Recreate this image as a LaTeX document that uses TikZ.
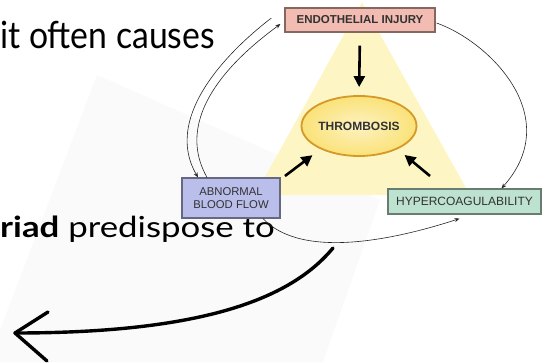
\documentclass[tikz,border=0pt]{standalone}
\usepackage{fontspec}
\usepackage{tikz}
\usetikzlibrary{arrows.meta,shapes.geometric}
\newfontfamily\slidefont{Lato}
\newfontfamily\figfont{Liberation Sans}
\definecolor{injury}{RGB}{242,188,178}
\definecolor{flow}{RGB}{186,190,234}
\definecolor{coag}{RGB}{190,226,208}
\definecolor{clot}{RGB}{250,226,120}
\definecolor{clotring}{RGB}{214,152,40}
\definecolor{glow}{RGB}{253,246,196}
\definecolor{sheet}{RGB}{250,250,250}
\definecolor{figtext}{RGB}{50,50,50}

\begin{document}
\begin{tikzpicture}[x=1pt, y=1pt,
  factor/.style={rectangle, fill=#1, draw=#1!55!black, line width=1.2pt, inner sep=0pt, text=figtext, align=center},
  cause/.style={line width=2.6pt, -{Triangle[length=11pt,width=11pt]}},
  link/.style={draw=black!85, line width=0.6pt, -{Stealth[length=5pt,width=4pt]}},
  hand/.style={line width=3.4pt, line cap=round, line join=round}]
\useasboundingbox (0,0) rectangle (546,362);

% faint paper behind the slide text
\fill[sheet] (97,287) -- (380,162) -- (323,0) -- (0,0) -- (0,32) -- cycle;

% slide text
\node[anchor=base west, inner sep=0pt, font=\slidefont\fontsize{37.5}{44}\selectfont] (T1) at (0,313) {\scalebox{0.9}[1]{it often causes}};
\node[anchor=base west, inner sep=0pt, font=\slidefont\fontsize{29}{35}\selectfont] (T2) at (0,125) {\scalebox{1.2}[1]{\textbf{riad} predispose to}};

% triad
\fill[glow] (362,360) -- (255,167) -- (470,167) -- cycle;

\node[factor=injury, minimum width=150pt, minimum height=24pt, font=\figfont\bfseries\fontsize{11.5}{13}\selectfont] (EI) at (360,342) {ENDOTHELIAL INJURY};
\node[factor=flow, minimum width=98pt, minimum height=40pt, font=\figfont\fontsize{11.3}{13}\selectfont] (ABF) at (231,164) {ABNORMAL\\BLOOD FLOW};
\node[factor=coag, minimum width=153pt, minimum height=25pt, font=\figfont\fontsize{12}{14}\selectfont] (HC) at (464.5,160.5) {HYPERCOAGULABILITY};
\node[ellipse, minimum width=102pt, minimum height=60pt, inner sep=0pt, draw=clotring, line width=1.8pt, inner color=clot!45, outer color=clot, text=figtext, font=\figfont\bfseries\fontsize{12}{14}\selectfont] (TH) at (359,236) {THROMBOSIS};

% into thrombosis
\coordinate (ABFtail) at (285,186);
\coordinate (HCtail) at (430,186);
\draw[cause, shorten <=13pt, shorten >=8pt] (EI.south) -- (TH.north);
\draw[cause, shorten >=10pt] (ABFtail) -- (TH.211);
\draw[cause, shorten >=9pt] (HCtail) -- (TH.329);

% links round the triad
\draw[link] ([xshift=-13pt,yshift=2pt]EI.west) .. controls (240,320) and (160,250) .. ([xshift=-33pt]ABF.north);
\draw[link] ([xshift=-24pt]ABF.north) .. controls (169,252) and (248,314) .. ([xshift=-4pt,yshift=-4pt]EI.west);
\draw[link] ([xshift=1pt,yshift=-3pt]EI.east) .. controls (490,320) and (565,245) .. ([xshift=37pt]HC.north);
\draw[link] ([xshift=32pt]ABF.south) .. controls (303,101) and (400,124) .. ([xshift=-5pt,yshift=-4pt]HC.south);

% hand drawn arrow
\coordinate (tip) at (15,29);
\draw[hand] (333,114) .. controls (290,62) and (200,29) .. (tip);
\draw[hand] (48,50) -- (tip) -- (47,1);
\end{tikzpicture}
\end{document}
